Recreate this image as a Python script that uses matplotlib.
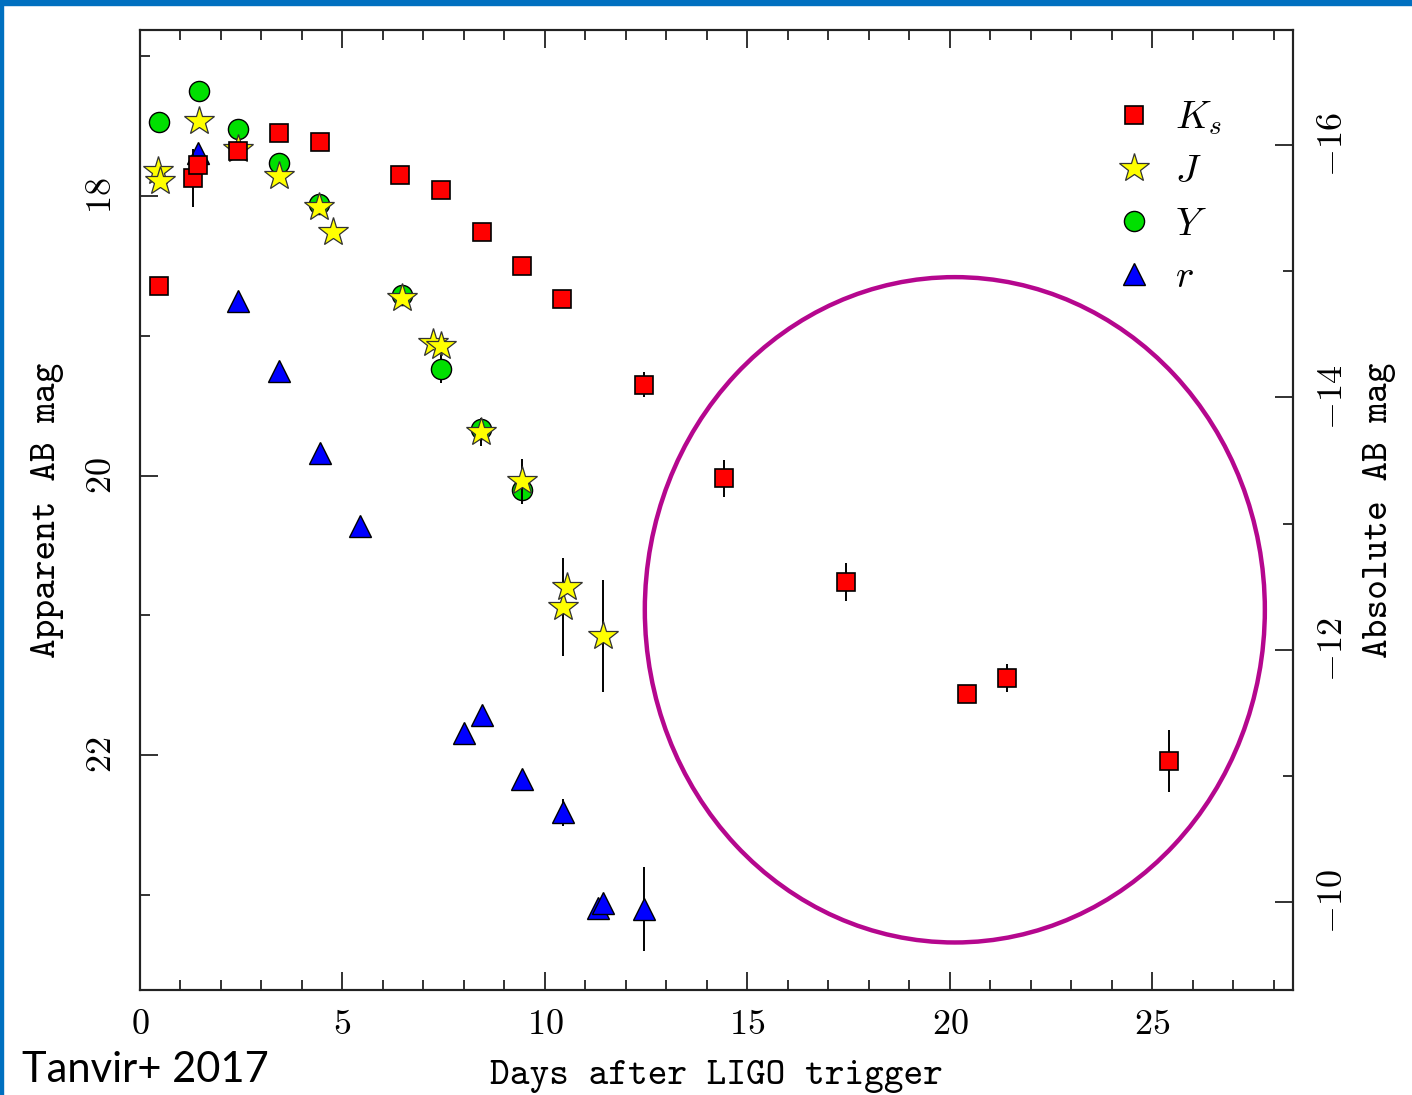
import matplotlib
matplotlib.use("Agg")
import matplotlib.pyplot as plt
from matplotlib.patches import Ellipse, Rectangle
from matplotlib.lines import Line2D
from matplotlib.ticker import MultipleLocator, FuncFormatter

# Ks band (red squares)
ks_days = [0.47, 1.31, 1.43, 2.42, 3.43, 4.44, 6.42, 7.43, 8.44, 9.43, 10.42,
           12.44, 14.42, 17.43, 20.42, 21.41, 25.41]
ks_mag = [18.64, 17.87, 17.78, 17.68, 17.55, 17.61, 17.85, 17.96, 18.26, 18.50,
          18.74, 19.35, 20.02, 20.76, 21.56, 21.45, 22.04]
ks_err = [0, 0.21, 0, 0, 0, 0, 0, 0, 0, 0, 0, 0.09, 0.135, 0.135, 0, 0.10, 0.22]

# J band (yellow stars)
j_days = [0.45, 0.50, 1.46, 2.42, 3.43, 4.42, 4.77, 6.47, 7.23, 7.43, 8.42,
          9.43, 10.44, 10.54, 11.43]
j_mag = [17.82, 17.89, 17.46, 17.66, 17.86, 18.08, 18.26, 18.73, 19.05, 19.07,
         19.69, 20.04, 20.94, 20.80, 21.15]
j_err = [0, 0, 0, 0, 0, 0, 0, 0, 0, 0, 0.10, 0.16, 0.35, 0, 0.40]

# Y band (green circles)
y_days = [0.47, 1.46, 2.42, 3.43, 4.42, 6.47, 7.43, 8.42, 9.43]
y_mag = [17.47, 17.25, 17.52, 17.76, 18.06, 18.71, 19.24, 19.67, 20.10]
y_err = [0, 0, 0, 0, 0, 0, 0.10, 0, 0]

# r band (blue triangles)
r_days = [1.43, 2.42, 3.43, 4.44, 5.43, 8.00, 8.44, 9.43, 10.44, 11.31, 11.43, 12.44]
r_mag = [17.69, 18.75, 19.25, 19.84, 20.36, 21.84, 21.71, 22.17, 22.41, 23.09,
         23.06, 23.10]
r_err = [0, 0, 0, 0, 0, 0, 0, 0, 0.10, 0, 0, 0.30]

plt.rcParams["mathtext.fontset"] = "cm"

W, H = 1412, 1095
fig = plt.figure(figsize=(W / 100, H / 100), dpi=100)
ax = fig.add_axes([140 / W, 105 / H, 1153 / W, 960 / H])

styles = {
    "r": dict(marker="^", ms=16, mfc="#0000FF", mec="black", mew=1.0),
    "Y": dict(marker="o", ms=14.5, mfc="#00E000", mec="black", mew=1.0),
    "J": dict(marker="*", ms=22, mfc="#FFFF00", mec="#333333", mew=0.9),
    "Ks": dict(marker="s", ms=13.5, mfc="#FF0000", mec="black", mew=1.2),
}

common = dict(linestyle="none", ecolor="black", elinewidth=1.4, capsize=0)
ax.errorbar(r_days, r_mag, yerr=r_err, zorder=3, **styles["r"], **common)
ax.errorbar(y_days, y_mag, yerr=y_err, zorder=4, **styles["Y"], **common)
ax.errorbar(j_days, j_mag, yerr=j_err, zorder=5, **styles["J"], **common)
ax.errorbar(ks_days, ks_mag, yerr=ks_err, zorder=6, **styles["Ks"], **common)

ax.set_xlim(0, 28.47)
ax.set_ylim(23.68, 16.812)

cm_fmt = FuncFormatter(lambda v, p: "$%d$" % round(v))
ax.xaxis.set_major_locator(MultipleLocator(5))
ax.xaxis.set_minor_locator(MultipleLocator(1))
ax.yaxis.set_major_locator(MultipleLocator(2))
ax.yaxis.set_minor_locator(MultipleLocator(1))
ax.xaxis.set_major_formatter(cm_fmt)
ax.yaxis.set_major_formatter(cm_fmt)
ax.tick_params(which="both", direction="in", top=True, right=False,
               labelsize=26, width=1.3, color="#222222")
ax.tick_params(which="major", length=13)
ax.tick_params(which="minor", length=7)
ax.tick_params(axis="x", pad=12)
ax.tick_params(axis="y", pad=16, labelrotation=90)
for lab in ax.get_yticklabels():
    lab.set_va("center")

ax2 = ax.twinx()
ax2.set_ylim(-9.303, -16.911)
ax2.yaxis.set_major_locator(MultipleLocator(2))
ax2.yaxis.set_minor_locator(MultipleLocator(1))
ax2.yaxis.set_major_formatter(cm_fmt)
ax2.tick_params(which="both", direction="in", labelsize=26, width=1.3,
                color="#222222", pad=16, labelrotation=90)
ax2.tick_params(which="major", length=13)
ax2.tick_params(which="minor", length=7)
for lab in ax2.get_yticklabels():
    lab.set_va("center")

for a in (ax, ax2):
    for s in a.spines.values():
        s.set_linewidth(1.5)
        s.set_color("#222222")

ax.set_xlabel("Days after LIGO trigger", fontname="cmtt10", fontsize=27, labelpad=14)
ax.set_ylabel("Apparent AB mag", fontname="cmtt10", fontsize=27, labelpad=14)
ax2.set_ylabel("Absolute AB mag", fontname="cmtt10", fontsize=27, labelpad=10)

# legend entries: marker only, no error bar line
legend_items = [("Ks", "$K_s$"), ("J", "$J$"), ("Y", "$Y$"), ("r", "$r$")]
handles = [Line2D([], [], linestyle="none", **styles[k]) for k, _ in legend_items]
ax.legend(handles, [t for _, t in legend_items],
          loc="upper left", bbox_to_anchor=(0.832, 0.945), frameon=False,
          fontsize=28, handlelength=1.0, handletextpad=0.55,
          labelspacing=0.38, borderaxespad=0)

# highlight of the late-time Ks points
ax.add_patch(Ellipse((20.12, 20.96), 15.31, 4.76, fill=False,
                     edgecolor="#B5078E", linewidth=3.2, zorder=10))

# slide frame and citation
fig.patches.append(Rectangle((0, 1 - 5 / H), 1, 5 / H, transform=fig.transFigure,
                             color="#0070C0", zorder=20))
fig.patches.append(Rectangle((0, 0), 3 / W, 1, transform=fig.transFigure,
                             color="#0070C0", zorder=20))
fig.text(22 / W, 13 / H, "Tanvir+ 2017", fontname="Lato", fontsize=30,
         va="baseline", ha="left")

fig.savefig("out.png", dpi=100)
